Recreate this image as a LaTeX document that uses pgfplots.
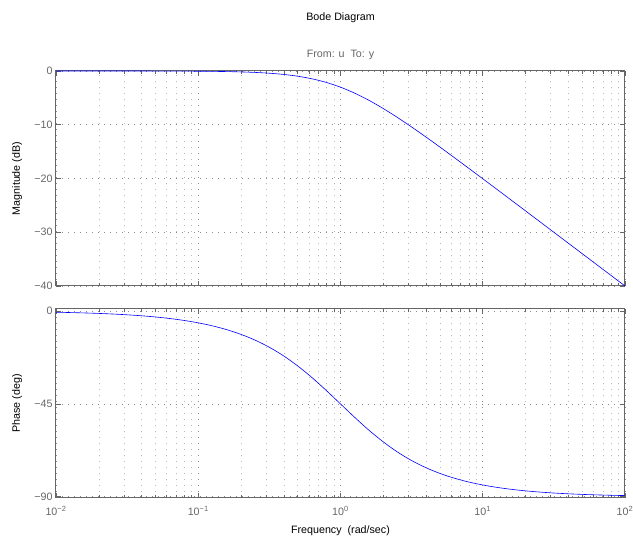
\documentclass[border=0pt]{standalone}
\usepackage{fontspec}
\setmainfont{Liberation Sans}
\usepackage{pgfplots}
\pgfplotsset{compat=1.18}
\definecolor{axgray}{gray}{0.40}
\definecolor{gridgray}{gray}{0.55}
\definecolor{mingray}{gray}{0.72}
\definecolor{mblue}{rgb}{0,0,1}
\newcommand{\fs}{\fontsize{10.7}{12.5}\selectfont}
\pgfplotsset{
  every axis/.append style={
    scale only axis, width=569pt, xmin=0.01, xmax=100,
    xtick={0.01,0.1,1,10,100},
    axis line style={axgray, line width=1pt},
    tick style={axgray, line width=0.6pt},
    tick align=inside, major tick length=5pt, minor tick length=3pt,
    xmajorgrids, xminorgrids, ymajorgrids,
    grid style={gridgray, dash pattern=on 0.9pt off 5.1pt, line width=0.6pt},
    minor grid style={mingray, dash pattern=on 0.9pt off 5.1pt, line width=0.6pt},
    ticklabel style={font=\fs, text=axgray},
    clip=false,
  }
}
\begin{document}
\begin{tikzpicture}
\path[use as bounding box] (0,0) rectangle (633pt,544pt);
\begin{axis}[xmode=log, at={(56pt,258pt)}, anchor=south west, height=215pt,
  ymin=-40, ymax=0, ytick={-40,-30,-20,-10,0},
  yticklabels={−40,−30,−20,−10,0}, xticklabel=\empty]
\addplot[mblue, line width=0.6pt, smooth] coordinates {
(0.010000,-0.000434) (0.012589,-0.000688) (0.015849,-0.001091) (0.019953,-0.001729)
(0.025119,-0.002740) (0.031623,-0.004341) (0.039811,-0.006878) (0.050119,-0.010895)
(0.063096,-0.017255) (0.079433,-0.027316) (0.100000,-0.043214) (0.125893,-0.06829)
(0.158489,-0.10775) (0.199526,-0.16955) (0.251189,-0.26598) (0.316228,-0.41393)
(0.398107,-0.63892) (0.501187,-0.97323) (0.630957,-1.4554) (0.794328,-2.1244)
(1.000000,-3.0103) (1.258925,-4.1244) (1.584893,-5.4554) (1.995262,-6.9732)
(2.511886,-8.6389) (3.162278,-10.4139) (3.981072,-12.2660) (5.011872,-14.1696)
(6.309573,-16.1078) (7.943282,-18.0683) (10.00000,-20.0432) (12.58925,-22.0273)
(15.84893,-24.0173) (19.95262,-26.0109) (25.11886,-28.0069) (31.62278,-30.0043)
(39.81072,-32.0027) (50.11872,-34.0017) (63.09573,-36.0011) (79.43282,-38.0007)
(100.0000,-40.0004)};
\end{axis}
\begin{axis}[xmode=log, at={(56pt,46pt)}, anchor=south west, height=189pt,
  ymin=-90.6, ymax=1, ytick={-90,-45,0},
  yticklabels={−90,−45,0},
  xticklabels={10\textsuperscript{−2},10\textsuperscript{−1},10\textsuperscript{0},10\textsuperscript{1},10\textsuperscript{2}},
  xticklabel style={yshift=-5pt}]
\addplot[mblue, line width=0.6pt, smooth] coordinates {
(0.010000,-0.5729) (0.012589,-0.7213) (0.015849,-0.9080) (0.019953,-1.1431)
(0.025119,-1.4390) (0.031623,-1.8111) (0.039811,-2.2798) (0.050119,-2.8692)
(0.063096,-3.6104) (0.079433,-4.5417) (0.100000,-5.7106) (0.125893,-7.1756)
(0.158489,-9.0061) (0.199526,-11.285) (0.251189,-14.104) (0.316228,-17.548)
(0.398107,-21.708) (0.501187,-26.641) (0.630957,-32.256) (0.794328,-38.476)
(1.000000,-45.000) (1.258925,-51.524) (1.584893,-57.744) (1.995262,-63.359)
(2.511886,-68.292) (3.162278,-72.452) (3.981072,-75.896) (5.011872,-78.715)
(6.309573,-80.994) (7.943282,-82.824) (10.00000,-84.289) (12.58925,-85.458)
(15.84893,-86.390) (19.95262,-87.131) (25.11886,-87.720) (31.62278,-88.189)
(39.81072,-88.561) (50.11872,-88.857) (63.09573,-89.092) (79.43282,-89.279)
(100.0000,-89.427)};
\end{axis}
\node[font=\fs] at (340.5pt,526pt) {Bode Diagram};
\node[font=\fs, text=axgray] at (340.5pt,489pt) {From: u\ \ To: y};
\node[font=\fs] at (340.5pt,13pt) {Frequency\ \ (rad/sec)};
\node[font=\fs, rotate=90] at (17pt,365.5pt) {Magnitude (dB)};
\node[font=\fs, rotate=90] at (17pt,140.5pt) {Phase (deg)};
\end{tikzpicture}
\end{document}
